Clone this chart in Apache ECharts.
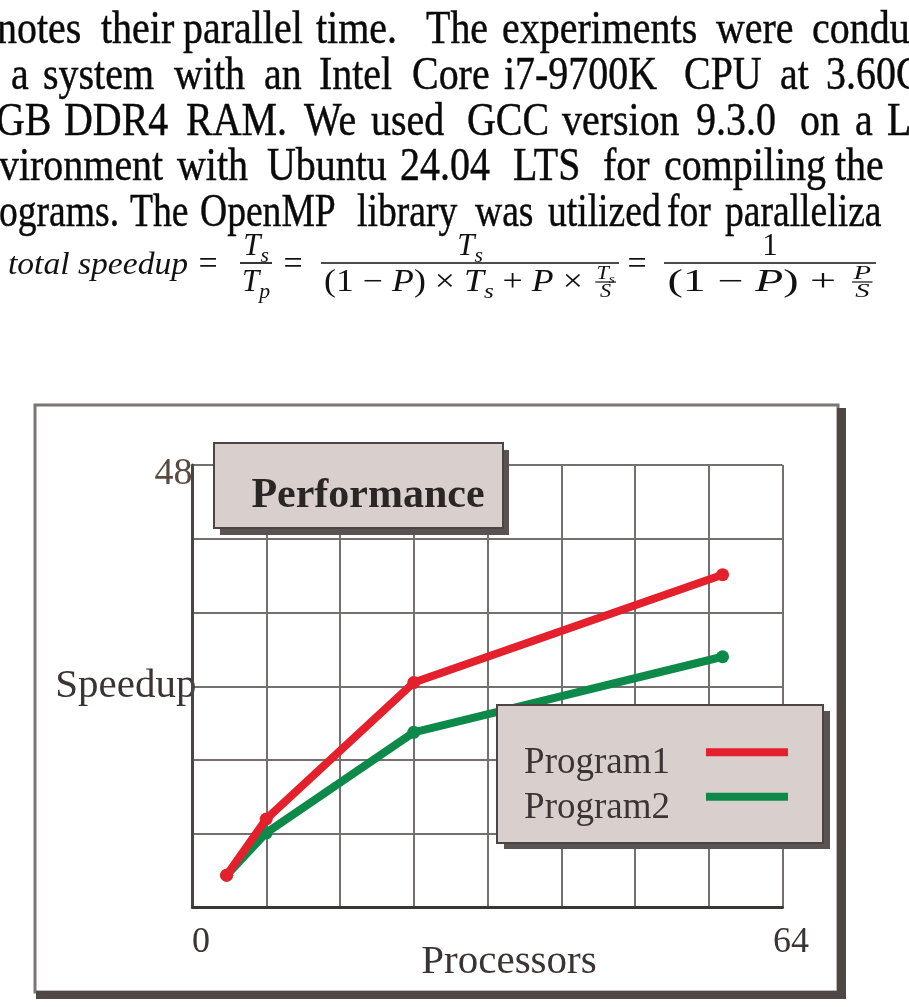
<!DOCTYPE html>
<html><head><meta charset="utf-8">
<script src="https://cdn.jsdelivr.net/npm/echarts@6.0.0/dist/echarts.min.js"></script>
<style>
html,body{margin:0;padding:0;background:#fff;width:909px;height:1007px;overflow:hidden}
#chart{position:absolute;left:0;top:0;width:909px;height:1007px}
#txt{position:absolute;left:0;top:0;width:909px;height:320px;overflow:hidden}
#txt text{white-space:pre}
</style></head><body>
<div id="chart"></div>
<svg id="txt" width="909" height="320" xmlns="http://www.w3.org/2000/svg"></svg>
<script>
// ---- chart data ----
const processors = [3.7, 8, 24, 57.5];
const program1 = [3.5, 9.6, 24.4, 36.1];
const program2 = [3.5, 8.1, 19, 27.2];
const seriesNames = ['Program1', 'Program2'];
const xLabelValues = [0, 64];
const yLabelValues = [48];
const chartTitle = 'Performance';
const xName = 'Processors';
const yName = 'Speedup';

// ---- paragraph text (visible part of the page) ----
const paraLines = [
  {y: 43, sx: 0.85, words: [['notes', -3], ['their', 101], ['parallel', 183], ['time.', 316], ['The', 426], ['experiments', 502], ['were', 716], ['condu', 812]]},
  {y: 89, sx: 0.85, words: [['a', 11], ['system', 43], ['with', 174], ['an', 264], ['Intel', 319], ['Core', 412], ['i7-9700K', 504], ['CPU', 684], ['at', 780], ['3.60C', 826]]},
  {y: 135, sx: 0.85, words: [['GB', -4], ['DDR4', 64], ['RAM.', 186], ['We', 304], ['used', 371], ['GCC', 467], ['version', 562], ['9.3.0', 696], ['on', 800], ['a', 855], ['L', 887]]},
  {y: 180, sx: 0.85, words: [['vironment', -1], ['with', 177], ['Ubuntu', 267], ['24.04', 400], ['LTS', 513], ['for', 603], ['compiling', 664], ['the', 835]]},
  {y: 226, sx: 0.80, words: [['ograms.', -1], ['The', 130], ['OpenMP', 200], ['library', 357], ['was', 475], ['utilized', 548], ['for', 667], ['paralleliza', 725]]}
];

const NS = 'http://www.w3.org/2000/svg';
const svg = document.getElementById('txt');
function el(tag, attrs, parent) {
  const e = document.createElementNS(NS, tag);
  for (const k in attrs) e.setAttribute(k, attrs[k]);
  (parent || svg).appendChild(e);
  return e;
}
const SERIF = 'Liberation Serif, Times New Roman, serif';
paraLines.forEach(line => {
  line.words.forEach(w => {
    const t = el('text', {transform: 'translate(' + w[1] + ',' + line.y + ') scale(' + line.sx + ',1)', 'font-family': SERIF, 'font-size': 47, fill: '#0a0a0a', stroke: '#0a0a0a', 'stroke-width': 0.45});
    t.textContent = w[0];
  });
});

// ---- formula ----
const FS = 31;
function run(parent, parts, x, y, fs) {
  const t = el('text', {x: x, y: y, 'font-family': SERIF, 'font-size': fs, fill: '#111'}, parent);
  let off = 0;
  parts.forEach(p => {
    const ts = el('tspan', {}, t);
    ts.textContent = p[0];
    const st = p[1] || '';
    if (st.indexOf('i') >= 0) ts.setAttribute('font-style', 'italic');
    let target = 0;
    if (st.indexOf('s') >= 0) { ts.setAttribute('font-size', fs * 0.7); target = fs * 0.22; }
    if (target - off !== 0) ts.setAttribute('dy', target - off);
    off = target;
  });
  return t;
}
function fitGroup(g, cx, targetW) {
  const bb = g.getBBox();
  const sx = targetW ? targetW / bb.width : 1;
  g.setAttribute('transform', 'translate(' + cx + ',0) scale(' + sx + ',1) translate(' + (-(bb.x + bb.width / 2)) + ',0)');
}
function smallFrac(parent, x, barY, num, den, fs) {
  const g = el('g', {}, parent);
  const n = run(g, num, 0, barY - 3, fs);
  const d = run(g, den, 0, barY + fs * 0.8, fs);
  const wn = n.getComputedTextLength(), wd = d.getComputedTextLength();
  const w = Math.max(wn, wd) + 2;
  n.setAttribute('x', (w - wn) / 2);
  d.setAttribute('x', (w - wd) / 2);
  el('line', {x1: 0, x2: w, y1: barY, y2: barY, stroke: '#111', 'stroke-width': 1.2}, g);
  g.setAttribute('transform', 'translate(' + x + ',0)');
  return w;
}
const B = 274, BAR = 263, NUMY = 255, DENY = 291;
const lhs = run(svg, [['total speedup', 'i']], 8, B, FS);
lhs.setAttribute('textLength', 180); lhs.setAttribute('lengthAdjust', 'spacingAndGlyphs');
[208, 293, 637].forEach(cx => { const e = run(svg, [['=', '']], cx, B, FS + 3); e.setAttribute('text-anchor', 'middle'); });
function frac(cx, x1, x2, numParts, denBuilder, denW) {
  const gn = el('g', {}, svg); run(gn, numParts, 0, NUMY, FS); fitGroup(gn, cx, 0);
  el('line', {x1: x1, x2: x2, y1: BAR, y2: BAR, stroke: '#111', 'stroke-width': 1.7});
  const gd = el('g', {}, svg); denBuilder(gd); fitGroup(gd, cx, denW);
}
function denWithSmall(gd, parts, sNum, sDen) {
  const t = run(gd, parts, 0, DENY, FS);
  const w = t.getComputedTextLength();
  smallFrac(gd, w + 3, DENY - 9, sNum, sDen, FS * 0.62);
}
frac(256, 240, 272, [['T', 'i'], ['s', 'si']], gd => run(gd, [['T', 'i'], ['p', 'si']], 0, DENY, FS), 0);
frac(470, 321, 619, [['T', 'i'], ['s', 'si']], gd => denWithSmall(gd,
  [['(1 \u2212 ', ''], ['P', 'i'], [') \u00d7 ', ''], ['T', 'i'], ['s', 'si'], [' + ', ''], ['P', 'i'], [' \u00d7 ', '']],
  [['T', 'i'], ['s', 'si']], [['S', 'i']]), 292);
frac(770, 664, 876, [['1', '']], gd => denWithSmall(gd,
  [['(1 \u2212 ', ''], ['P', 'i'], [') + ', '']],
  [['P', 'i']], [['S', 'i']]), 205);

// ---- chart ----
const RED = '#e3202b', GREEN = '#0d8a4a';
const TXT = '#3b3434';
const chart = echarts.init(document.getElementById('chart'), null, {renderer: 'canvas'});
const cv = document.createElement('canvas').getContext('2d');
cv.font = 'bold 42px "Liberation Serif"';
const titleW = cv.measureText(chartTitle).width;
const option = {
  animation: false,
  backgroundColor: '#fff',
  title: {
    text: chartTitle, left: 368 - titleW / 2, top: 475, padding: 0, z: 8,
    textStyle: {fontFamily: SERIF, fontWeight: 'bold', fontSize: 42, lineHeight: 42, color: '#2b2626'}
  },
  grid: {left: 192.5, right: 126.5, top: 465, bottom: 99.5, containLabel: false, outerBoundsMode: 'none'},
  xAxis: {
    type: 'value', min: 0, max: 64, interval: 8,
    axisLine: {show: true, onZero: false, lineStyle: {color: '#3b3636', width: 3}},
    axisTick: {show: false},
    splitLine: {show: true, lineStyle: {color: '#757070', width: 2}},
    axisLabel: {
      formatter: v => xLabelValues.indexOf(v) >= 0 ? String(v) : '',
      showMinLabel: true, showMaxLabel: true,
      fontFamily: SERIF, fontSize: 36, lineHeight: 36, color: TXT, margin: 17, padding: [0, 0, 0, 17]
    },
    name: xName, nameLocation: 'middle', nameGap: 34, nameMoveOverlap: false,
    nameTextStyle: {fontFamily: SERIF, fontSize: 41, lineHeight: 41, color: TXT, padding: [0, 0, 0, 43]}
  },
  yAxis: {
    type: 'value', min: 0, max: 48, interval: 8,
    axisLine: {show: true, onZero: false, lineStyle: {color: '#4a4545', width: 3}},
    axisTick: {show: false},
    splitLine: {show: true, lineStyle: {color: '#757070', width: 2}},
    axisLabel: {
      formatter: v => yLabelValues.indexOf(v) >= 0 ? String(v) : '',
      showMinLabel: true, showMaxLabel: true,
      fontFamily: SERIF, fontSize: 38, lineHeight: 18, verticalAlign: 'top', color: '#5b4a3f', margin: 0
    },
    name: yName, nameLocation: 'middle', nameRotate: 0, nameGap: -4, nameMoveOverlap: false,
    nameTextStyle: {fontFamily: SERIF, fontSize: 41, lineHeight: 41, color: TXT, padding: [14, 0, 0, 0]}
  },
  legend: {
    data: seriesNames, orient: 'vertical', left: 492, top: 722.7, padding: 0, itemGap: -14.4,
    align: 'right', icon: 'rect', itemWidth: 82, itemHeight: 8, z: 12,
    formatter: name => '{t|' + name + '}',
    textStyle: {
      fontFamily: SERIF, fontSize: 37, lineHeight: 20, color: TXT, width: 178, padding: [0, 31, 0, 0],
      rich: {t: {fontFamily: SERIF, fontSize: 37, lineHeight: 20, color: TXT, padding: [22, 0, 0, 0]}}
    }
  },
  graphic: [
    {type: 'rect', z: 0, shape: {x: 35, y: 405, width: 803, height: 587}, style: {fill: 'none', stroke: '#7d7575', lineWidth: 3}},
    {type: 'rect', z: 0, shape: {x: 837, y: 408, width: 9, height: 591}, style: {fill: '#4f4646'}},
    {type: 'rect', z: 0, shape: {x: 36, y: 991, width: 810, height: 8}, style: {fill: '#4f4646'}},
    {type: 'rect', z: 5, shape: {x: 220, y: 450, width: 289, height: 85}, style: {fill: '#5b5252'}},
    {type: 'rect', z: 6, shape: {x: 214, y: 443, width: 289, height: 85}, style: {fill: '#d9d0cd', stroke: '#4b4545', lineWidth: 2}},
    {type: 'rect', z: 9, shape: {x: 504, y: 711, width: 326, height: 138}, style: {fill: '#5b5252'}},
    {type: 'rect', z: 10, shape: {x: 497, y: 705, width: 326, height: 138}, style: {fill: '#d9d0cd', stroke: '#4b4545', lineWidth: 2}}
  ],
  series: [
    {name: seriesNames[0], type: 'line', z: 4, data: processors.map((x, i) => [x, program1[i]]),
      symbol: 'circle', symbolSize: 13, showSymbol: true,
      lineStyle: {color: RED, width: 8}, itemStyle: {color: RED}},
    {name: seriesNames[1], type: 'line', z: 3, data: processors.map((x, i) => [x, program2[i]]),
      symbol: 'circle', symbolSize: 13, showSymbol: true,
      lineStyle: {color: GREEN, width: 8}, itemStyle: {color: GREEN}}
  ]
};
chart.setOption(option);
</script>
</body></html>
